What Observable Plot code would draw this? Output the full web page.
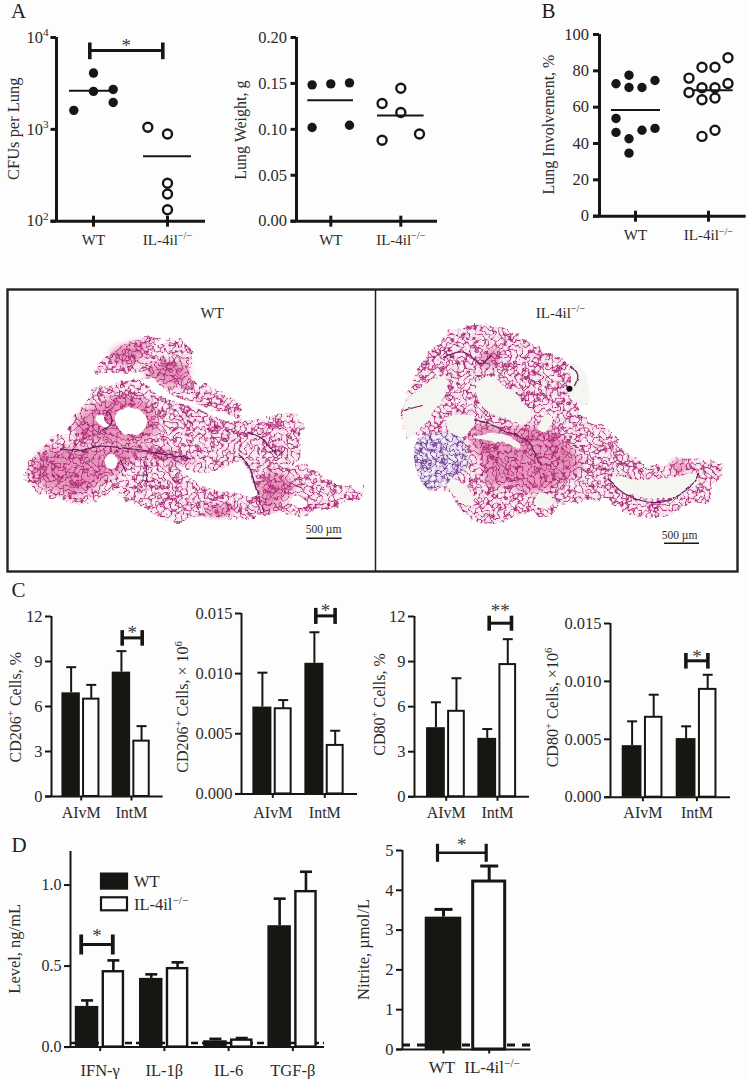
<!DOCTYPE html>
<html>
<head>
<meta charset="utf-8">
<script src="https://cdn.jsdelivr.net/npm/d3@7"></script>
<script src="https://cdn.jsdelivr.net/npm/@observablehq/plot@0.6"></script>
<style>
  html,body{margin:0;padding:0;background:#fdfdfd;}
  #root{position:relative;width:749px;height:1079px;overflow:hidden;background:#fdfdfd;}
  #root svg.panel{position:absolute;}
</style>
</head>
<body>
<svg width="0" height="0" style="position:absolute">
  <defs>
    <filter id="edge" x="-5%" y="-5%" width="110%" height="110%" color-interpolation-filters="sRGB">
      <feTurbulence type="fractalNoise" baseFrequency="0.13" numOctaves="2" seed="4" result="n"/>
      <feDisplacementMap in="SourceGraphic" in2="n" scale="9" xChannelSelector="R" yChannelSelector="G"/>
    </filter>
    <filter id="softEdge" x="-10%" y="-10%" width="120%" height="120%" color-interpolation-filters="sRGB">
      <feTurbulence type="fractalNoise" baseFrequency="0.08" numOctaves="2" seed="9" result="n"/>
      <feDisplacementMap in="SourceGraphic" in2="n" scale="4" xChannelSelector="R" yChannelSelector="G"/>
    </filter>
    <filter id="blurPatch" x="-20%" y="-20%" width="140%" height="140%">
      <feGaussianBlur stdDeviation="3.5"/>
    </filter>
    <filter id="meshPink" x="-5%" y="-5%" width="110%" height="110%" color-interpolation-filters="sRGB">
      <feTurbulence type="fractalNoise" baseFrequency="0.13" numOctaves="2" seed="4" result="n"/>
      <feDisplacementMap in="SourceGraphic" in2="n" scale="9" xChannelSelector="R" yChannelSelector="G" result="shape"/>
      <feTurbulence type="fractalNoise" baseFrequency="0.17" numOctaves="2" seed="21" result="m"/>
      <feColorMatrix in="m" type="matrix" values="0 0 0 0 .66  0 0 0 0 .13  0 0 0 0 .44  1 0 0 0 0" result="a"/>
      <feComponentTransfer in="a" result="walls">
        <feFuncA type="table" tableValues=".8 .8 .5 .15 0 0 0 .15 0 .4 1 .4 0 .15 0 0 0 .15 .5 .8 .8"/>
      </feComponentTransfer>
      <feComposite in="walls" in2="shape" operator="in"/>
    </filter>
    <filter id="meshPurple" x="-5%" y="-5%" width="110%" height="110%" color-interpolation-filters="sRGB">
      <feTurbulence type="fractalNoise" baseFrequency="0.19" numOctaves="2" seed="13" result="m"/>
      <feColorMatrix in="m" type="matrix" values="0 0 0 0 .42  0 0 0 0 .22  0 0 0 0 .58  1 0 0 0 0" result="a"/>
      <feComponentTransfer in="a" result="walls">
        <feFuncA type="table" tableValues=".9 .9 .6 .2 0 0 .1 .25 .1 .5 1 .5 .1 .25 .1 0 0 .2 .6 .9 .9"/>
      </feComponentTransfer>
      <feComposite in="walls" in2="SourceGraphic" operator="in"/>
    </filter>
  </defs>
</svg>
<div id="root"></div>
<script>
// ---------- Categories and labels ----------
const genotypes = ["WT", "IL-4il^{−/−}"];
const cellGroups = ["AIvM", "IntM"];
const cytokines = ["IFN-γ", "IL-1β", "IL-6", "TGF-β"];

// ---------- Panel A: CFUs per lung ----------
const cfuWT = [4100, 1610, 2590, 2720, 1960];
const cfuWTSlot = [0, -1, 0, 1, 1];
const cfuKO = [1052, 889, 259, 198, 133];
const cfuKOSlot = [-1, 0, 0, 0, 0];
const cfuMeans = [2630, 509];

// ---------- Panel A: lung weight ----------
const weightWT = [0.1484, 0.1495, 0.1506, 0.102, 0.1045];
const weightWTSlot = [-1, 0, 1, -1, 1];
const weightKO = [0.1281, 0.1448, 0.1183, 0.0882, 0.095];
const weightKOSlot = [-1, 0, 0, -1, 1];
const weightMeans = [0.1317, 0.1151];

// ---------- Panel B: lung involvement ----------
const involvementWT = [72.9, 77.6, 70.8, 70.8, 74.7, 53.8, 46.1, 42.6, 47.3, 48.3, 34.7];
const involvementWTSlot = [-1.5, -0.5, -0.5, 0.5, 1.5, -1.5, -1.5, -0.5, 0.5, 1.5, -0.5];
const involvementKO = [76, 82, 82, 87.2, 70.7, 70.7, 73, 68.1, 64.1, 65, 43.9, 47.3];
const involvementKOSlot = [-1.5, -0.5, 0.5, 1.5, -0.5, 0.5, 1.5, -1.5, -0.5, 0.5, -0.5, 0.5];
const involvementMeans = [58.4, 69.3];

// ---------- Panel C ----------
const cd206PctWT = [6.91, 8.29], cd206PctWTErr = [8.62, 9.69];
const cd206PctKO = [6.49, 3.69], cd206PctKOErr = [7.44, 4.69];
const cd206NumWT = [0.00722, 0.01086], cd206NumWTErr = [0.01008, 0.01344];
const cd206NumKO = [0.00708, 0.00403], cd206NumKOErr = [0.0078, 0.00525];
const cd80PctWT = [4.6, 3.89], cd80PctWTErr = [6.29, 4.51];
const cd80PctKO = [5.69, 8.8], cd80PctKOErr = [7.89, 10.49];
const cd80NumWT = [0.00445, 0.00506], cd80NumWTErr = [0.00655, 0.00612];
const cd80NumKO = [0.0069, 0.00931], cd80NumKOErr = [0.00885, 0.01057];

// ---------- Panel D ----------
const levelWT = [0.251, 0.424, 0.039, 0.749], levelWTErr = [0.288, 0.449, 0.051, 0.916];
const levelKO = [0.465, 0.484, 0.043, 0.959], levelKOErr = [0.535, 0.523, 0.056, 1.082];
const levelDetection = 0.025;
const nitriteWT = [3.325], nitriteWTErr = [3.52];
const nitriteKO = [4.22], nitriteKOErr = [4.61];
const nitriteDetection = 0.11;

// ---------- Micrograph tissue outlines, traced in micrograph units ----------
const wtTissue = [[275,258],[310,225],[360,180],[420,160],[478,150],[470,185],[505,160],[545,165],[570,190],[578,225],[560,250],[580,290],[590,305],[610,290],[650,320],[700,345],[725,350],[715,385],[722,405],[770,405],[830,385],[880,385],[915,420],[890,470],[900,520],[870,545],[920,535],[965,570],[1000,595],[1050,600],[1075,625],[1090,605],[1095,625],[1070,645],[1030,650],[1000,670],[950,670],[900,695],[850,680],[800,690],[720,700],[650,695],[600,690],[530,710],[480,695],[420,660],[360,635],[350,625],[375,595],[330,620],[290,645],[230,660],[170,640],[110,620],[65,570],[90,520],[130,490],[155,450],[180,445],[210,450],[210,410],[250,360],[275,310],[340,290],[425,280],[430,262],[360,262],[300,265]];
const wtHoles = [
  [[420,285],[450,280],[520,330],[600,360],[700,395],[715,410],[650,395],[580,365],[500,340],[450,310]],
  [[345,390],[375,365],[420,375],[440,410],[420,440],[380,445],[350,425]],
  [[285,400],[305,385],[315,410],[335,425],[295,420]],
  [[312,525],[325,505],[350,515],[345,545],[325,550]],
  [[530,540],[600,565],[680,540],[725,530],[760,600],[765,630],[700,620],[620,605],[560,570]],
  [[870,650],[885,630],[915,645],[920,665],[890,665]]
];
const wtDense = [
  [[120,500],[210,490],[350,480],[480,490],[590,530],[520,530],[420,510],[350,560],[300,590],[230,630],[150,610],[100,570]],
  [[230,400],[300,350],[360,330],[440,350],[470,440],[400,470],[300,470],[230,450]],
  [[440,260],[480,230],[560,240],[560,290],[500,300]],
  [[330,200],[440,170],[420,220],[360,240]],
  [[630,660],[700,670],[680,690],[620,690]],
  [[770,620],[800,560],[880,590],[850,640],[800,680]]
];
const wtVeins = [
  [[180,490],[240,495],[300,482],[390,490],[470,500],[570,520]],
  [[360,520],[375,560]],
  [[430,530],[445,590]],
  [[715,505],[740,530],[770,620],[790,680]],
  [[745,440],[785,460],[825,505]],
  [[320,380],[335,410],[300,440]]
];
const koTissue = [[80,375],[100,320],[130,250],[170,190],[220,140],[290,115],[350,120],[420,145],[500,190],[570,225],[610,270],[640,350],[600,360],[640,400],[700,430],[760,505],[810,540],[870,540],[900,520],[960,520],[1045,535],[1040,580],[1005,610],[1000,660],[950,650],[900,680],[830,700],[760,680],[690,640],[620,650],[560,660],[520,695],[460,680],[400,700],[340,718],[290,700],[250,660],[230,620],[205,610],[160,610],[125,550],[122,480],[145,440],[100,460],[85,420]];
const koHoles = [
  [[305,300],[330,275],[370,280],[385,300],[440,340],[470,385],[450,415],[400,400],[350,385],[315,350]],
  [[85,380],[120,320],[170,290],[215,270],[215,320],[175,380],[140,430],[100,455]],
  [[215,400],[260,385],[300,390],[290,430],[265,455],[230,440]],
  [[215,590],[245,585],[290,620],[300,660],[265,655],[230,620]],
  [[300,455],[380,445],[430,470],[435,490],[400,475],[340,465]],
  [[490,430],[515,390],[535,400],[510,440]],
  [[480,640],[500,620],[535,640],[525,665],[490,665]],
  [[710,575],[800,585],[900,575],[965,565],[975,590],[920,620],[860,640],[780,630],[730,610]],
  [[590,230],[630,260],[640,350],[610,355],[585,330],[590,280]]
];
const koDense = [
  [[300,420],[400,430],[520,430],[620,540],[560,590],[480,620],[400,600],[340,600],[320,520],[290,470]],
  [[320,210],[370,190],[370,240],[320,240]],
  [[890,530],[940,530],[930,560],[900,560]]
];
const koPurple = [[125,470],[200,440],[260,460],[280,540],[240,570],[210,600],[160,610],[125,550]];
const koVeins = [
  [[210,215],[270,200],[320,235],[350,205]],
  [[90,375],[140,360]],
  [[590,240],[610,270],[600,300]],
  [[700,580],[760,630],[860,650],[960,590],[975,565]],
  [[300,400],[380,430],[460,470],[500,540]]
];
const koSpeck = [[585,310]];

// ---------- Shared style ----------
const INK = "#171612", TEXT = "#2b2b29", SERIF = "'Liberation Serif','Times New Roman',serif";
const root = document.getElementById("root");
const spanShape = (a, b) => ({draw(c) { c.moveTo(0, -a); c.lineTo(0, b); }});

function superscripts(svg) {
  svg.querySelectorAll("text").forEach(t => {
    const s = t.textContent;
    if (!s.includes("^{")) return;
    t.textContent = "";
    const ns = "http://www.w3.org/2000/svg";
    const parts = s.split(/\^\{|\}/);
    parts.forEach((p, i) => {
      if (i % 2 === 0) {
        if (!p) return;
        const n = document.createElementNS(ns, "tspan");
        n.textContent = p;
        if (i > 0) n.setAttribute("dy", "0.38em");
        t.appendChild(n);
      } else {
        const n = document.createElementNS(ns, "tspan");
        n.textContent = p;
        n.setAttribute("font-size", "0.68em");
        n.setAttribute("dy", "-0.56em");
        t.appendChild(n);
      }
    });
  });
}

function draw(c, build) {
  const {axisX, xEnd, yTop, yBottom, tick0, tick1, yDomain, yType = "linear"} = c;
  const unit = tick1 - tick0;
  const xu = px => (px - tick0) / unit;
  const yu = yType === "log"
    ? py => yDomain[0] * Math.pow(yDomain[1] / yDomain[0], (yBottom - py) / (yBottom - yTop))
    : py => yDomain[0] + (yDomain[1] - yDomain[0]) * (yBottom - py) / (yBottom - yTop);
  const ml = 72, mr = 8, mt = 42, mb = 32;
  const width = ml + (xEnd - axisX) + mr, height = mt + (yBottom - yTop) + mb;
  const sw = c.axisWidth, ymin = yDomain[0];
  const stroke = {stroke: INK, strokeLinecap: "butt"};
  const labelsX = c.xLabels.map((d, i) => i);
  const fs = c.tickFont || 16, xfs = c.xFont || 16;

  const marks = [
    ...build({xu, yu}),
    Plot.ruleX([xu(axisX)], {y1: yDomain[0], y2: yDomain[1], ...stroke, strokeWidth: sw}),
    Plot.ruleY([ymin], {x1: xu(axisX - c.tickLen), x2: xu(xEnd), ...stroke, strokeWidth: sw}),
    Plot.axisY({
      ticks: c.yTicks, tickFormat: c.yFormat, tickSize: c.tickLen, tickPadding: c.tickPad ?? 3,
      fontSize: fs, stroke: INK, strokeWidth: sw, fill: TEXT, label: null, anchor: "left"
    }),
    Plot.vector(labelsX, {
      x: d => d, y: () => ymin, length: 1, anchor: "start",
      shape: spanShape(c.xTickUp, c.xTickDown), ...stroke, strokeWidth: sw
    }),
    Plot.text(c.xLabels, {
      x: (d, i) => (c.xLabelPos ? xu(c.xLabelPos[i]) : i), y: () => yu(c.xBaseline), text: d => d,
      fontSize: xfs, fill: TEXT, lineAnchor: "bottom"
    }),
    Plot.text([c.yLabel], {
      x: () => xu(c.yLabelX), y: () => yu(c.yLabelY), text: d => d, rotate: -90,
      fontSize: c.yLabelFont || 16, fill: TEXT, lineAnchor: "bottom", textAnchor: "middle"
    })
  ];
  if (c.letter) marks.push(Plot.text([c.letter], {
    x: () => xu(c.letterX), y: () => yu(c.letterY), text: d => d, fontSize: 21,
    fill: "#1f1f1d", lineAnchor: "bottom", textAnchor: "start"
  }));
  if (c.bracket) {
    const b = c.bracket, mid = (b.from + b.to) / 2, bw = b.width || 3;
    marks.push(
      Plot.ruleY([yu(b.y)], {x1: xu(b.from), x2: xu(b.to), ...stroke, strokeWidth: bw}),
      Plot.vector([b.from, b.to], {
        x: d => xu(d), y: () => yu(b.y), length: 1, anchor: "start",
        shape: spanShape(b.up, b.down), ...stroke, strokeWidth: bw + 0.6
      }),
      Plot.text([b.star], {
        x: () => xu(mid), y: () => yu(b.starY), text: d => d, fontSize: 19, fill: "#3a3a38",
        lineAnchor: "middle", dy: 3
      })
    );
  }
  const svg = Plot.plot({
    width, height, marginLeft: ml, marginRight: mr, marginTop: mt, marginBottom: mb,
    x: {domain: [xu(axisX), xu(xEnd)], axis: null},
    y: {domain: yDomain, type: yType, label: null},
    style: {fontFamily: SERIF, background: "transparent", overflow: "visible"},
    marks
  });
  svg.classList.add("panel");
  svg.style.left = (axisX - ml) + "px";
  svg.style.top = (yTop - mt) + "px";
  superscripts(svg);
  root.appendChild(svg);
}

function scatterMarks(wt, wtSlot, ko, koSlot, means, slotWidth, meanSpans) {
  return ({xu}) => {
    const rowsWT = wt.map((v, i) => ({x: wtSlot[i] * slotWidth, v}));
    const rowsKO = ko.map((v, i) => ({x: 1 + koSlot[i] * slotWidth, v}));
    return [
      Plot.ruleY(means, {
        y: d => d, x1: (d, i) => xu(meanSpans[i][0]), x2: (d, i) => xu(meanSpans[i][1]),
        stroke: INK, strokeWidth: 2
      }),
      Plot.dot(rowsWT, {x: "x", y: "v", r: 4.7, fill: INK, stroke: "none"}),
      Plot.dot(rowsKO, {x: "x", y: "v", r: 4.5, fill: "none", stroke: INK, strokeWidth: 2.4})
    ];
  };
}

function barRows(wt, wtErr, ko, koErr, off) {
  const rows = [];
  wt.forEach((v, i) => {
    rows.push({pos: i - off, v, err: wtErr[i], filled: true});
    rows.push({pos: i + off, v: ko[i], err: koErr[i], filled: false});
  });
  return rows;
}

function barMarks(rows, o) {
  const fillBars = rows.filter(d => d.filled), openBars = rows.filter(d => !d.filled);
  return [
    ...(o.baseline != null ? [Plot.ruleY([o.baseline], {
      x1: o.xFrom, x2: o.xTo, stroke: INK, strokeWidth: o.dashWidth, strokeDasharray: o.dash
    })] : []),
    Plot.ruleX(rows, {x: "pos", y1: "v", y2: "err", stroke: INK, strokeWidth: o.errWidth}),
    Plot.vector(rows, {
      x: "pos", y: "err", length: 1, anchor: "start", rotate: 90,
      shape: spanShape(o.cap, o.cap), stroke: INK, strokeWidth: o.errWidth, strokeLinecap: "butt"
    }),
    Plot.rect(fillBars, {
      x1: d => d.pos - o.halfFill, x2: d => d.pos + o.halfFill, y1: () => 0, y2: "v", fill: INK, inset: 0
    }),
    Plot.rect(openBars, {
      x1: d => d.pos - o.halfOpen, x2: d => d.pos + o.halfOpen, y1: () => 0, y2: "v",
      fill: "#fdfdfd", stroke: INK, strokeWidth: o.openStroke, inset: 0
    })
  ];
}

// ---------- Panel A ----------
draw({
  axisX: 56, xEnd: 205, yTop: 37.3, yBottom: 221, tick0: 93, tick1: 167,
  yDomain: [100, 10000], yType: "log", yTicks: [100, 1000, 10000],
  yFormat: d => "10^{" + Math.round(Math.log10(d)) + "}",
  axisWidth: 3, tickLen: 5.5, tickPad: 2.5, xTickUp: 5.5, xTickDown: 5.5, tickFont: 16.5,
  xLabels: genotypes, xBaseline: 245, xFont: 15,
  yLabel: "CFUs per Lung", yLabelX: 18.5, yLabelY: 128.5, yLabelFont: 16.5,
  letter: "A", letterX: 10.5, letterY: 17.5,
  bracket: {from: 89.3, to: 162.3, y: 50.3, up: 8, down: 8.7, star: "*", starY: 43, width: 3}
}, scatterMarks(cfuWT, cfuWTSlot, cfuKO, cfuKOSlot, cfuMeans, 0.266, [[69, 113], [143, 191]]));

draw({
  axisX: 295.7, xEnd: 436.7, yTop: 37.3, yBottom: 221, tick0: 330, tick1: 400,
  yDomain: [0, 0.2], yTicks: [0, 0.05, 0.1, 0.15, 0.2], yFormat: d3.format(".2f"),
  axisWidth: 3, tickLen: 5.5, tickPad: 4, xTickUp: 5.5, xTickDown: 5.5, tickFont: 16.5,
  xLabels: genotypes, xBaseline: 245, xFont: 15,
  yLabel: "Lung Weight, g", yLabelX: 245, yLabelY: 130, yLabelFont: 16
}, scatterMarks(weightWT, weightWTSlot, weightKO, weightKOSlot, weightMeans, 0.267, [[307, 352.7], [376.7, 423.3]]));

// ---------- Panel B ----------
draw({
  axisX: 599, xEnd: 745.7, yTop: 34, yBottom: 215.7, tick0: 635, tick1: 708,
  yDomain: [0, 100], yTicks: [0, 20, 40, 60, 80, 100], yFormat: d => String(d),
  axisWidth: 3, tickLen: 6, tickPad: 4.5, xTickUp: 5.5, xTickDown: 5.5, tickFont: 16.5,
  xLabels: genotypes, xBaseline: 240, xFont: 15,
  yLabel: "Lung Involvement, %", yLabelX: 553, yLabelY: 124, yLabelFont: 16,
  letter: "B", letterX: 541, letterY: 17.5
}, scatterMarks(involvementWT, involvementWTSlot, involvementKO, involvementKOSlot, involvementMeans, 0.178, [[611, 660], [693, 732.7]]));

// ---------- Micrographs ----------
(function () {
  const toWT = ([x, y]) => [x / 3, 285 + y / 3];
  const toKO = ([x, y]) => [374 + x / 3, 285 + y / 3];
  const poly = (pts, to, o) => Plot.line(pts.map(to), {x: d => d[0], y: d => d[1], stroke: "none", ...o});
  const tissue = (shape, dense, holes, veins, to, holeFill) => [
    poly(shape, to, {fill: "#fcf1f6", curve: "linear-closed", imageFilter: "url(#edge)"}),
    ...dense.map(p => poly(p, to, {fill: "#dc5f98", fillOpacity: 0.6, curve: "catmull-rom-closed", imageFilter: "url(#blurPatch)"})),
    poly(shape, to, {fill: "#000", curve: "linear-closed", imageFilter: "url(#meshPink)"}),
    ...holes.map(p => poly(p, to, {fill: holeFill, curve: "catmull-rom-closed", imageFilter: "url(#softEdge)"})),
    ...veins.map(p => poly(p, to, {stroke: "#6a1a5c", strokeWidth: 1.2, fill: "none", curve: "catmull-rom", imageFilter: "url(#softEdge)"}))
  ];
  const svg = Plot.plot({
    width: 734, height: 286, marginLeft: 2, marginRight: 2, marginTop: 2, marginBottom: 2,
    x: {domain: [7, 737], axis: null}, y: {domain: [571, 289], axis: null},
    style: {fontFamily: SERIF, background: "transparent"},
    marks: [
      Plot.frame({fill: "#fefefe"}),
      ...tissue(wtTissue, wtDense, wtHoles, wtVeins, toWT, "#fefefe"),
      ...tissue(koTissue, koDense, koHoles, koVeins, toKO, "#f5f5f1"),
      poly(koPurple, toKO, {fill: "#fdfafd", curve: "catmull-rom-closed"}),
      poly(koPurple, toKO, {fill: "#000", curve: "catmull-rom-closed", imageFilter: "url(#meshPurple)"}),
      Plot.dot(koSpeck.map(toKO), {x: d => d[0], y: d => d[1], r: 3, fill: "#111"}),
      Plot.text(["WT"], {x: () => 211.7, y: () => 317.3, text: d => d, fontSize: 15, fill: TEXT, lineAnchor: "bottom"}),
      Plot.text(["IL-4il^{−/−}"], {x: () => 560, y: () => 317.3, text: d => d, fontSize: 15, fill: TEXT, lineAnchor: "bottom"}),
      Plot.text(["500 µm"], {x: () => 323, y: () => 532, text: d => d, fontSize: 11.5, fill: TEXT, lineAnchor: "bottom"}),
      Plot.text(["500 µm"], {x: () => 679, y: () => 538, text: d => d, fontSize: 11.5, fill: TEXT, lineAnchor: "bottom"}),
      Plot.ruleY([537.7], {x1: 306.3, x2: 341.7, stroke: INK, strokeWidth: 1.4}),
      Plot.ruleY([542.7], {x1: 664, x2: 699, stroke: INK, strokeWidth: 1.4}),
      Plot.ruleX([375], {stroke: "#222", strokeWidth: 1.5}),
      Plot.frame({stroke: "#222", strokeWidth: 2.4})
    ]
  });
  svg.classList.add("panel");
  svg.style.left = "5px";
  svg.style.top = "287px";
  superscripts(svg);
  root.appendChild(svg);
})();

// ---------- Panel C ----------
const cBar = {errWidth: 2, cap: 5, halfFill: 0.183, halfOpen: 0.153, openStroke: 2};
const cCommon = {
  axisWidth: 2, tickLen: 6, tickPad: 3, xTickUp: 0, xTickDown: 4, xLabels: cellGroups, xBaseline: 818, tickFont: 16.5
};
draw({
  ...cCommon, axisX: 51, xEnd: 162.7, yTop: 616.3, yBottom: 796.3, tick0: 80.7, tick1: 131,
  yDomain: [0, 12], yTicks: [0, 3, 6, 9, 12], yFormat: d => String(d),
  yLabel: "CD206^{+} Cells, %", yLabelX: 20, yLabelY: 707,
  letter: "C", letterX: 11, letterY: 597,
  bracket: {from: 121.7, to: 141.7, y: 637.7, up: 7.8, down: 7.8, star: "*", starY: 630, width: 3}
}, () => barMarks(barRows(cd206PctWT, cd206PctWTErr, cd206PctKO, cd206PctKOErr, 0.2), cBar));
draw({
  ...cCommon, axisX: 240.7, xEnd: 356.7, yTop: 613.3, yBottom: 793.7, tick0: 272, tick1: 324,
  yDomain: [0, 0.015], yTicks: [0, 0.005, 0.01, 0.015], yFormat: d3.format(".3f"),
  yLabel: "CD206^{+} Cells, × 10^{6}", yLabelX: 187, yLabelY: 706.7,
  bracket: {from: 315, to: 334.3, y: 615.7, up: 8, down: 8, star: "*", starY: 607.7, width: 3}
}, () => barMarks(barRows(cd206NumWT, cd206NumWTErr, cd206NumKO, cd206NumKOErr, 0.2), cBar));
draw({
  ...cCommon, axisX: 414, xEnd: 529, yTop: 616, yBottom: 796.3, tick0: 445.7, tick1: 497,
  yDomain: [0, 12], yTicks: [0, 3, 6, 9, 12], yFormat: d => String(d),
  yLabel: "CD80^{+} Cells, %", yLabelX: 384, yLabelY: 704,
  bracket: {from: 488.7, to: 511, y: 622.7, up: 7.5, down: 7.5, star: "**", starY: 607.7, width: 3}
}, () => barMarks(barRows(cd80PctWT, cd80PctWTErr, cd80PctKO, cd80PctKOErr, 0.2), cBar));
draw({
  ...cCommon, axisX: 610.3, xEnd: 730.3, yTop: 623, yBottom: 796.7, tick0: 642.7, tick1: 696.7,
  yDomain: [0, 0.015], yTicks: [0, 0.005, 0.01, 0.015], yFormat: d3.format(".3f"),
  yLabel: "CD80^{+} Cells, ×10^{6}", yLabelX: 557.7, yLabelY: 707,
  bracket: {from: 685.7, to: 707.7, y: 660.3, up: 7.8, down: 7.8, star: "*", starY: 653, width: 3}
}, () => barMarks(barRows(cd80NumWT, cd80NumWTErr, cd80NumKO, cd80NumKOErr, 0.2), cBar));

// ---------- Panel D ----------
draw({
  axisX: 70, xEnd: 324, yTop: 850.7, yBottom: 1046.3, tick0: 99.7, tick1: 163.9,
  yDomain: [0, 1.207], yTicks: [0, 0.5, 1], yFormat: d3.format(".1f"),
  axisWidth: 2, tickLen: 6, tickPad: 3, xTickUp: 0, xTickDown: 4, tickFont: 16,
  xLabels: cytokines, xBaseline: 1075, xFont: 16.5,
  yLabel: "Level, ng/mL", yLabelX: 19.5, yLabelY: 948, yLabelFont: 16.5,
  letter: "D", letterX: 11, letterY: 851,
  bracket: {from: 80.7, to: 112.3, y: 943.7, up: 10, down: 10, star: "*", starY: 931.7, width: 3.2}
}, ({xu, yu}) => [
  ...barMarks(barRows(levelWT, levelWTErr, levelKO, levelKOErr, 0.205), {
    baseline: levelDetection, xFrom: xu(70), xTo: xu(324), dashWidth: 2.6, dash: "7,4",
    errWidth: 2.6, cap: 6, halfFill: 0.183, halfOpen: 0.157, openStroke: 2.4
  }),
  Plot.rect(genotypes, {
    x1: () => xu(101), x2: () => xu(127),
    y1: (d, i) => yu(i ? 910 : 888.3), y2: (d, i) => yu(i ? 897 : 873.3),
    fill: (d, i) => (i ? "#fdfdfd" : INK), stroke: INK, strokeWidth: 2.2, inset: 0
  }),
  Plot.text(genotypes, {
    x: () => xu(133.5), y: (d, i) => yu(i ? 909.3 : 886.7), text: d => d,
    fontSize: 16.5, fill: TEXT, lineAnchor: "bottom", textAnchor: "start"
  })
]);
draw({
  axisX: 402.3, xEnd: 530.7, yTop: 850, yBottom: 1049, tick0: 443.3, tick1: 489,
  yDomain: [0, 5], yTicks: [0, 1, 2, 3, 4, 5], yFormat: d => String(d),
  axisWidth: 2, tickLen: 6, tickPad: 3, xTickUp: 0, xTickDown: 4, tickFont: 16.5,
  xLabels: genotypes, xBaseline: 1073, xFont: 17, xLabelPos: [441.7, 492],
  yLabel: "Nitrite, µmol/L", yLabelX: 369, yLabelY: 949, yLabelFont: 16.5,
  bracket: {from: 437.3, to: 486, y: 852.3, up: 9, down: 9, star: "*", starY: 841.7, width: 2.6}
}, ({xu}) => barMarks([
  {pos: 0, v: nitriteWT[0], err: nitriteWTErr[0], filled: true},
  {pos: 1, v: nitriteKO[0], err: nitriteKOErr[0], filled: false}
], {
  baseline: nitriteDetection, xFrom: xu(402.3), xTo: xu(530.7), dashWidth: 3, dash: "8,7",
  errWidth: 3, cap: 9, halfFill: 0.4, halfOpen: 0.35, openStroke: 3
}));
</script>
</body>
</html>
